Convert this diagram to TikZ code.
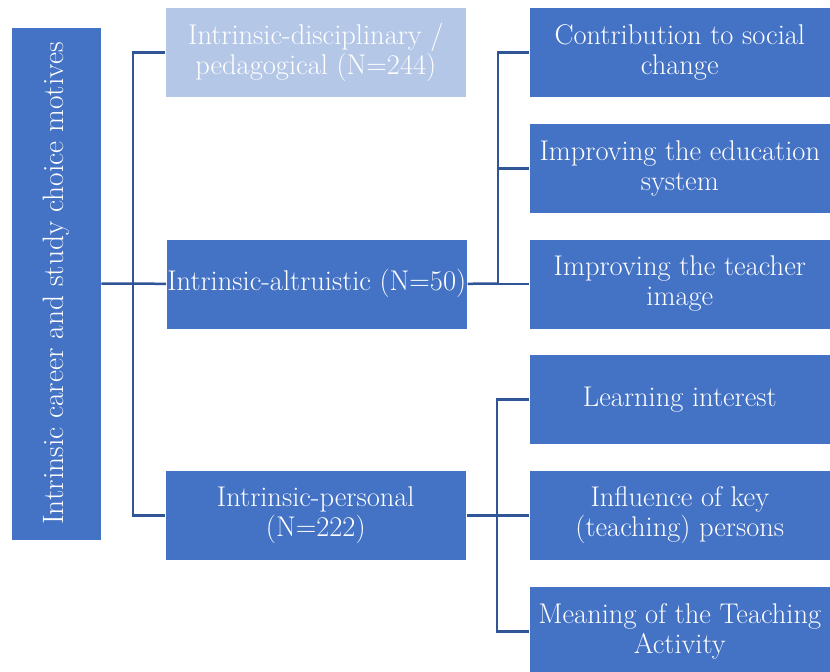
\documentclass[tikz,border=0pt]{standalone}
\usepackage{fontspec}
\definecolor{boxblue}{HTML}{4472C4}
\definecolor{lightblue}{HTML}{B4C7E7}
\definecolor{lineblue}{HTML}{2F5597}
\tikzset{
  box/.style={fill=boxblue, draw=white, line width=0.6pt, text=white, align=center,
    inner sep=0pt, anchor=north west, minimum width=301pt, minimum height=90pt,
    font=\fontsize{28.5}{30}\selectfont},
  conn/.style={draw=lineblue, line width=2.5pt}
}
\begin{document}
\begin{tikzpicture}[x=1pt,y=-1pt]
\clip (0,0) rectangle (830,672);
\useasboundingbox (0,0) rectangle (830,672);
% root
\node[box, anchor=center, rotate=90, minimum width=513pt, minimum height=90pt,
  font=\fontsize{29.5}{31}\selectfont] (L) at (56,283.5) {Intrinsic career and study choice motives};
% middle
\node[box, fill=lightblue] (D) at (165,7) {Intrinsic-disciplinary /\\pedagogical (N=244)};
\node[box] (A) at (166,238.5) {Intrinsic-altruistic (N=50)};
\node[box] (P) at (165,470) {Intrinsic-personal\\(N=222)};
% right
\node[box] (R1) at (529,7) {Contribution to social\\change};
\node[box] (R2) at (529,123) {Improving the education\\system};
\node[box] (R3) at (529,238.5) {Improving the teacher\\image};
\node[box] (R4) at (529,354) {Learning interest};
\node[box] (R5) at (529,470) {Influence of key\\(teaching) persons};
\node[box] (R6) at (529,586) {Meaning of the Teaching\\Activity};
% junctions
\coordinate (j1) at (133,283.5);
\coordinate (j2) at (498,283.5);
\coordinate (j3) at (497,515);
% connectors
\draw[conn] (L.south) -- (A.west);
\draw[conn] (D.west) -| (j1) |- (P.west);
\draw[conn] (A.east) -- (j2);
\draw[conn] (R1.west) -| (j2) |- (R3.west);
\draw[conn] (R2.west) -- (R2.west -| j2);
\draw[conn] (P.east) -- (R5.west);
\draw[conn] (R4.west) -| (j3) |- (R6.west);
\end{tikzpicture}
\end{document}
